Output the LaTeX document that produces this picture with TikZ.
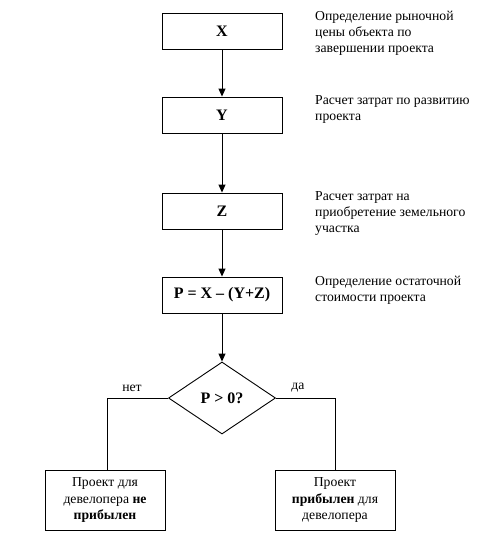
\documentclass[tikz,border=0pt]{standalone}
\usepackage{fontspec}
\setmainfont{Liberation Serif}
\usetikzlibrary{arrows.meta,shapes.geometric}
\begin{document}
\begin{tikzpicture}[x=1pt,y=-1pt,
  every node/.style={font=\fontsize{13.7}{16}\selectfont},
  box/.style={draw,line width=0.9pt,minimum width=120pt,minimum height=36pt,inner sep=0pt,font=\fontsize{16}{18}\selectfont\bfseries},
  endbox/.style={draw,line width=0.9pt,minimum width=120pt,minimum height=60pt,inner sep=0pt,align=center,font=\fontsize{13.7}{16.5}\selectfont},
  note/.style={anchor=north west,align=left,inner sep=0pt,font=\fontsize{13.7}{16}\selectfont},
  arr/.style={line width=0.9pt,-{Triangle[length=8pt,width=7pt]}},
  ln/.style={line width=0.9pt}]
\fill[white] (0,0) rectangle (479,543);
\node[box] (X) at (222,31) {X};
\node[box] (Y) at (222,115) {Y};
\node[box] (Z) at (222,211) {Z};
\node[box] (P) at (222,295) {P = X – (Y+Z)};
\node[draw,line width=0.9pt,diamond,aspect=1.49,minimum width=107pt,minimum height=72pt,inner sep=0pt,font=\fontsize{16}{18}\selectfont\bfseries] (D) at (222,398) {P > 0?};
\node[endbox] (L) at (105,500) {Проект для\\девелопера \textbf{не}\\\textbf{прибылен}};
\node[endbox] (R) at (335,500) {Проект\\\textbf{прибылен} для\\девелопера};
\node[note] (tX) at (315,11) {Определение рыночной\\цены объекта по\\завершении проекта};
\node[note] (tY) at (315,95) {Расчет затрат по развитию\\проекта};
\node[note] (tZ) at (315,191) {Расчет затрат на\\приобретение земельного\\участка};
\node[note] (tP) at (315,276) {Определение остаточной\\стоимости проекта};
\node (no) at (132,388) {нет};
\node (yes) at (298,388) {да};
\coordinate (cl) at (107,398);
\coordinate (cr) at (335,398);
\draw[arr] (X) -- (Y);
\draw[arr] (Y) -- (Z);
\draw[arr] (Z) -- (P);
\draw[arr] (P) -- (D);
\draw[ln] (D.west) -- (cl) -- (cl |- L.north);
\draw[ln] (D.east) -- (cr) -- (cr |- R.north);
\end{tikzpicture}
\end{document}
